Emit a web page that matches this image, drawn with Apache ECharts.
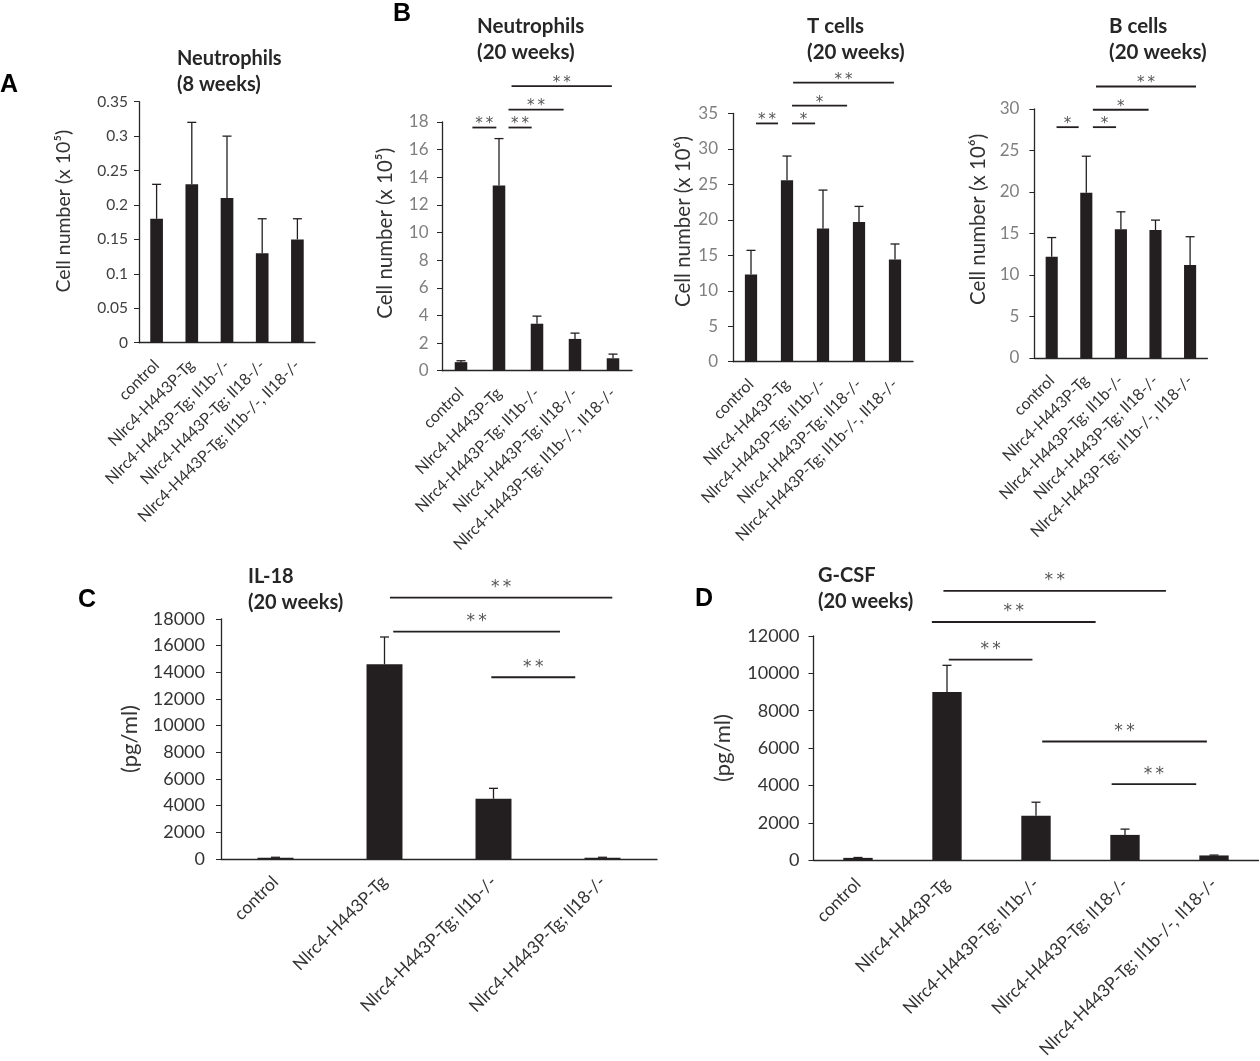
<!DOCTYPE html>
<html>
<head>
<meta charset="utf-8" />
<title>Nlrc4-H443P-Tg</title>
<script src="https://cdn.jsdelivr.net/npm/echarts@6/dist/echarts.min.js"></script>
<style>
  html, body { margin: 0; padding: 0; background: #fff; }
  #chart { width: 1260px; height: 1061px; }
</style>
</head>
<body>
<div id="chart"></div>
<script>
// categories
var cats5 = ['control', 'Nlrc4-H443P-Tg', 'Nlrc4-H443P-Tg; Il1b-/-', 'Nlrc4-H443P-Tg; Il18-/-', 'Nlrc4-H443P-Tg; Il1b-/-, Il18-/-'];
var cats4 = ['control', 'Nlrc4-H443P-Tg', 'Nlrc4-H443P-Tg; Il1b-/-', 'Nlrc4-H443P-Tg; Il18-/-'];

// means and upper error values (mean + SD)
var neut8Mean = [0.18, 0.23, 0.21, 0.13, 0.15];
var neut8Top = [0.23, 0.32, 0.30, 0.18, 0.18];
var neut20Mean = [0.62, 13.4, 3.4, 2.3, 0.9];
var neut20Top = [0.72, 16.8, 3.95, 2.72, 1.2];
var tcellMean = [12.3, 25.6, 18.8, 19.7, 14.4];
var tcellTop = [15.7, 29.0, 24.2, 21.9, 16.6];
var bcellMean = [12.2, 19.9, 15.5, 15.4, 11.2];
var bcellTop = [14.5, 24.3, 17.6, 16.6, 14.6];
var il18Mean = [100, 14600, 4520, 100];
var il18Top = [130, 16650, 5300, 130];
var gcsfMean = [120, 9000, 2380, 1350, 250];
var gcsfTop = [140, 10430, 3100, 1660, 270];

// significance bars: [from index, to index, height, label]
var neut8Sig = [];
var neut20Sig = [[0.3, 0.93, 17.6, '**'], [1.25, 1.86, 17.6, '**'], [1.25, 2.7, 18.9, '**'], [1.33, 3.97, 20.6, '**']];
var tcellSig = [[0.14, 0.75, 33.6, '**'], [1.14, 1.78, 33.6, '*'], [1.14, 2.67, 36.1, '*'], [1.17, 3.97, 39.35, '**']];
var bcellSig = [[0.14, 0.78, 27.8, '*'], [1.19, 1.86, 27.8, '*'], [1.19, 2.8, 29.9, '*'], [1.28, 4.17, 32.7, '**']];
var il18Sig = [[1.05, 3.09, 19600, '**'], [1.08, 2.61, 17050, '**'], [1.98, 2.75, 13630, '**']];
var gcsfSig = [[0.96, 3.46, 14420, '**'], [0.83, 2.67, 12750, '**'], [1.02, 1.96, 10740, '**'], [2.07, 3.92, 6350, '**'], [2.85, 3.8, 4070, '**']];

// y axis ranges [min, max, interval]
var neut8Y = [0, 0.35, 0.05];
var neut20Y = [0, 18, 2];
var tcellY = [0, 35, 5];
var bcellY = [0, 30, 5];
var il18Y = [0, 18000, 2000];
var gcsfY = [0, 12000, 2000];

var FONT = 'Lato, "Noto Sans", sans-serif';
var STAR_FONT = '"DejaVu Sans", sans-serif';
var INK = '#231f20';

var panels = [
  { cats: cats5, mean: neut8Mean, top: neut8Top, sig: neut8Sig, y: neut8Y,
    grid: { left: 139, top: 101.7, width: 176, height: 241 },
    yName: 'Cell number (x 10\u2075)', nameGap: 65, namePad: [0, 0, 0, 22], nameSize: 19.5,
    tickSize: 15.5, tickColor: '#404040', labelMargin: 11, xSize: 16, xMargin: 20, barWidth: '36%',
    starSize: 15, starOff: 3, cap: 4.5 },
  { cats: cats5, mean: neut20Mean, top: neut20Top, sig: neut20Sig, y: neut20Y,
    grid: { left: 442, top: 122, width: 190, height: 248.7 },
    yName: 'Cell number (x 10\u2075)', nameGap: 46, namePad: [0, 0, 0, 26], nameSize: 20.5,
    tickSize: 17, tickColor: '#7f7f7f', labelMargin: 13.5, xSize: 16, xMargin: 20, barWidth: '33%',
    starSize: 15, starOff: 3, cap: 4.5 },
  { cats: cats5, mean: tcellMean, top: tcellTop, sig: tcellSig, y: tcellY,
    grid: { left: 733, top: 113.5, width: 180, height: 248.2 },
    yName: 'Cell number (x 10\u2076)', nameGap: 38, namePad: [0, 0, 0, 32], nameSize: 20.5,
    tickSize: 17, tickColor: '#7f7f7f', labelMargin: 15, xSize: 16, xMargin: 20, barWidth: '34%',
    starSize: 15, starOff: 3, cap: 4.5 },
  { cats: cats5, mean: bcellMean, top: bcellTop, sig: bcellSig, y: bcellY,
    grid: { left: 1034.4, top: 108.9, width: 173, height: 249 },
    yName: 'Cell number (x 10\u2076)', nameGap: 46, namePad: [0, 0, 0, 28], nameSize: 20.5,
    tickSize: 17, tickColor: '#7f7f7f', labelMargin: 15, xSize: 16, xMargin: 20, barWidth: '35%',
    starSize: 15, starOff: 3, cap: 4.5 },
  { cats: cats4, mean: il18Mean, top: il18Top, sig: il18Sig, y: il18Y,
    grid: { left: 221, top: 619, width: 436, height: 240 },
    yName: '(pg/ml)', nameGap: 80, namePad: [0, 0, 0, 0], nameSize: 22,
    tickSize: 18, tickColor: '#333', labelMargin: 16, xSize: 17.5, xMargin: 20, barWidth: '33%',
    starSize: 17, starOff: 10, cap: 4.5 },
  { cats: cats5, mean: gcsfMean, top: gcsfTop, sig: gcsfSig, y: gcsfY,
    grid: { left: 813.5, top: 636, width: 445, height: 228 },
    yName: '(pg/ml)', nameGap: 80, namePad: [0, 0, 0, 0], nameSize: 22,
    tickSize: 18, tickColor: '#333', labelMargin: 14, xSize: 17.5, xMargin: 21, barWidth: '33%',
    starSize: 17, starOff: 10, cap: 4.5 }
];

// titles and panel letters
var titles = [
  { text: 'Neutrophils\n(8 weeks)', left: 177, top: 46, size: 20 },
  { text: 'Neutrophils\n(20 weeks)', left: 477, top: 13.5, size: 20.5 },
  { text: 'T cells\n(20 weeks)', left: 807, top: 13.5, size: 20.5 },
  { text: 'B cells\n(20 weeks)', left: 1109, top: 13.5, size: 20.5 },
  { text: 'IL-18\n(20 weeks)', left: 248, top: 564, size: 20 },
  { text: 'G-CSF\n(20 weeks)', left: 818, top: 563, size: 20 }
];
var letters = [
  { text: 'A', left: 0, top: 73 },
  { text: 'B', left: 393, top: 2 },
  { text: 'C', left: 78, top: 588 },
  { text: 'D', left: 695, top: 587 }
];

function errRender(cap) {
  return function (params, api) {
    var base = api.coord([api.value(0), api.value(1)]);
    var top = api.coord([api.value(0), api.value(2)]);
    var st = { stroke: INK, lineWidth: 1.3 };
    return {
      type: 'group',
      children: [
        { type: 'line', shape: { x1: base[0], y1: base[1], x2: top[0], y2: top[1] }, style: st },
        { type: 'line', shape: { x1: top[0] - cap, y1: top[1], x2: top[0] + cap, y2: top[1] }, style: st }
      ]
    };
  };
}

function sigRender(sig, size, off) {
  return function (params, api) {
    var o = api.coord([0, api.value(2)]);
    var band = api.size([1, 0])[0];
    var xa = o[0] + api.value(0) * band;
    var xb = o[0] + api.value(1) * band;
    var label = sig[params.dataIndex][3].split('').join('\u2009');
    return {
      type: 'group',
      children: [
        { type: 'line', shape: { x1: xa, y1: o[1], x2: xb, y2: o[1] },
          style: { stroke: INK, lineWidth: 1.8 } },
        { type: 'text', style: { text: label, x: (xa + xb) / 2, y: o[1] - off,
          align: 'center', verticalAlign: 'middle', fill: '#555', fontSize: size, fontFamily: STAR_FONT } }
      ]
    };
  };
}

function plainNumber(v) {
  return String(+v.toFixed(4));
}

var grids = [], xAxes = [], yAxes = [], series = [];
panels.forEach(function (p, k) {
  grids.push(p.grid);
  xAxes.push({
    type: 'category', gridIndex: k, data: p.cats,
    axisLine: { lineStyle: { color: '#262626', width: 1.3 } },
    axisTick: { show: false },
    axisLabel: { rotate: 45, interval: 0, fontSize: p.xSize, color: '#333', fontFamily: FONT, margin: p.xMargin }
  });
  yAxes.push({
    type: 'value', gridIndex: k, min: p.y[0], max: p.y[1], interval: p.y[2],
    name: p.yName, nameLocation: 'middle', nameGap: p.nameGap,
    nameTextStyle: { fontSize: p.nameSize, color: '#333', fontFamily: FONT, padding: p.namePad },
    axisLine: { show: true, lineStyle: { color: '#262626', width: 1.3 } },
    axisTick: { show: true, length: 5, lineStyle: { color: '#262626' } },
    splitLine: { show: false },
    axisLabel: { fontSize: p.tickSize, color: p.tickColor, fontFamily: FONT, margin: p.labelMargin,
      formatter: plainNumber }
  });
  series.push({
    type: 'bar', xAxisIndex: k, yAxisIndex: k, data: p.mean, barWidth: p.barWidth,
    itemStyle: { color: INK }, silent: true
  });
  series.push({
    type: 'custom', xAxisIndex: k, yAxisIndex: k, clip: false, z: 3, silent: true,
    renderItem: errRender(p.cap),
    encode: { x: 0, y: [1, 2] },
    data: p.mean.map(function (m, i) { return [i, m, p.top[i]]; })
  });
  series.push({
    type: 'custom', xAxisIndex: k, yAxisIndex: k, clip: false, z: 4, silent: true,
    renderItem: sigRender(p.sig, p.starSize, p.starOff),
    encode: { x: 0, y: 2 },
    data: p.sig.map(function (s) { return [s[0], s[1], s[2]]; })
  });
});

var titleList = [];
titles.forEach(function (t) {
  titleList.push({ text: t.text, left: t.left, top: t.top, padding: 0,
    textStyle: { fontFamily: FONT, fontWeight: 'bold', fontSize: t.size, lineHeight: 26, color: '#262626' } });
});
letters.forEach(function (t) {
  titleList.push({ text: t.text, left: t.left, top: t.top, padding: 0,
    textStyle: { fontFamily: '"Liberation Sans", Arial, sans-serif', fontWeight: 'bold', fontSize: 25, color: '#000' } });
});

var myChart = echarts.init(document.getElementById('chart'));
myChart.setOption({
  backgroundColor: '#fff',
  animation: false,
  title: titleList,
  grid: grids,
  xAxis: xAxes,
  yAxis: yAxes,
  series: series
});
</script>
</body>
</html>
